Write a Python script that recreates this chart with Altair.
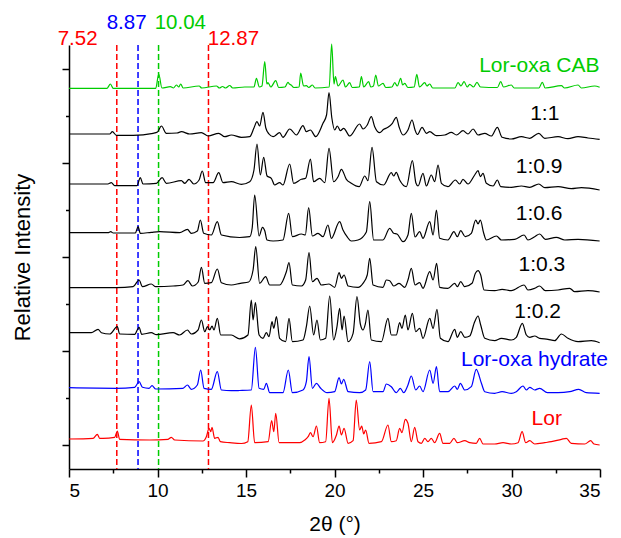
import altair as alt
import pandas as pd

FONT = "Liberation Sans"

# ---------------- data ----------------
series_names = ["Lor", "Lor-oxa hydrate", "1:0.2", "1:0.3", "1:0.6", "1:0.9", "1:1", "Lor-oxa CAB"]
series_colors = ["#FF0000", "#0000FF", "#000000", "#000000", "#000000", "#000000", "#000000", "#00CC00"]
series_offsets = [0, 51, 102, 153, 203, 255, 305, 356]

# (2theta, relative intensity above the trace's own baseline)
lor = [(5.0, 6), (6.36, 6.7), (6.6, 10.7), (6.73, 6.7), (6.92, 6.7), (7.58, 7.7), (7.73, 14), (7.86, 5.7),
       (9.56, 5), (10.6, 5.7), (10.78, 7.7), (10.97, 5), (12.57, 4), (12.76, 8.3), (12.91, 16.7), (13.01, 13.3),
       (13.08, 17.7), (13.23, 6.7), (13.42, 7.7), (13.55, 3.3), (14.08, 2.3), (14.74, 1.5), (15.1, 3.3),
       (15.3, 40), (15.49, 2.3), (16.25, 3.3), (16.45, 24.3), (16.57, 13.3), (16.68, 31.7), (16.87, 2.3),
       (18.03, 2.3), (18.32, 5), (18.51, 8.3), (18.64, 12.3), (18.79, 8.3), (18.98, 19), (19.16, 2.3),
       (19.5, 3.3), (19.69, 46.7), (19.88, 2.3), (20.11, 10), (20.26, 19), (20.39, 10), (20.54, 16.7),
       (20.77, 1.7), (21.05, 4.3), (21.23, 45), (21.42, 15), (21.54, 19), (21.65, 11), (21.76, 15),
       (21.95, 1.7), (22.65, 3.3), (23.02, 20), (23.21, 3.3), (23.49, 4.3), (23.68, 16.7), (23.81, 12.3),
       (24.0, 25.7), (24.15, 21.7), (24.34, 3.3), (24.53, 17.7), (24.72, 3.3), (24.91, 1.7), (25.1, 6.7),
       (25.28, 3.3), (25.47, 6.7), (25.66, 2.3), (25.94, 11.7), (26.13, 1.7), (26.51, 1.7), (26.75, 6.7),
       (26.94, 2.3), (27.36, 4.3), (27.64, 2.3), (28.01, 1.7), (28.2, 6.7), (28.39, 1), (29.05, 1),
       (29.52, 2.3), (29.99, 1), (30.37, 2.3), (30.6, 13.3), (30.8, 2.3), (31.03, 4.3), (31.31, 1),
       (31.88, 2.3), (32.25, 3.3), (32.82, 5.7), (33.1, 6.7), (33.38, 1.7), (34.14, 1), (34.47, 4.3),
       (34.66, 1), (34.98, 0)]

hydrate = [(5.0, 6.3), (7.68, 5.7), (8.71, 6.7), (8.96, 12.3), (9.15, 6.7), (9.52, 5.7), (9.69, 8.3), (9.9, 5),
           (11.44, 5.7), (11.69, 9), (11.91, 4.7), (12.25, 9), (12.44, 24), (12.63, 5.7), (13.04, 4.7),
           (13.38, 22.3), (13.61, 4), (14.17, 3.3), (14.64, 3.5), (15.3, 4), (15.53, 46.7), (15.74, 5.7),
           (16.0, 4.7), (16.15, 10.7), (16.34, 1.3), (17.09, 1.3), (17.39, 24), (17.62, 1.3), (18.22, 4),
           (18.41, 12.3), (18.56, 37.3), (18.75, 5.7), (18.98, 10.7), (19.22, 5.7), (19.58, 1.3), (20.01, 2.3),
           (20.26, 16.3), (20.39, 10), (20.52, 14.7), (20.77, 2.3), (21.42, 1.3), (21.76, 4), (21.99, 32.3),
           (22.18, 2.3), (22.74, 2.3), (22.93, 10), (23.21, 7.3), (23.49, 1.3), (23.72, 5.7), (23.91, 1.3),
           (24.15, 9), (24.34, 18), (24.59, 4), (24.81, 8), (25.0, 2.3), (25.38, 24), (25.57, 10.7),
           (25.76, 27.3), (25.94, 2.3), (26.41, 2.3), (26.79, 8), (26.94, 4.7), (27.11, 10.7), (27.36, 4),
           (27.73, 7.3), (28.01, 24.7), (28.3, 10.7), (28.49, 2.3), (29.05, 0.7), (29.47, 2.3), (29.99, 0.7),
           (30.27, 2.3), (30.65, 8), (30.84, 4), (31.03, 6.7), (31.31, 4), (31.59, 5.7), (32.03, 1.3),
           (32.63, 1.3), (33.29, 2.3), (33.8, 4.7), (34.23, 1.3), (34.98, 0.7)]

r_1_02 = [(5.0, 10.3), (6.26, 10.3), (6.64, 13.7), (6.83, 10.3), (7.3, 9), (7.73, 16.3), (7.86, 9), (8.71, 8.7),
          (8.96, 15.7), (9.11, 8.7), (9.65, 10.3), (9.94, 8.3), (10.88, 10.3), (11.25, 8), (11.69, 13),
          (11.91, 9), (12.29, 13), (12.48, 23), (12.67, 11.3), (12.82, 16.3), (12.95, 13), (13.08, 17),
          (13.19, 13), (13.38, 24.7), (13.57, 8), (14.17, 8), (14.64, 4.2), (15.11, 8), (15.3, 43), (15.4, 23),
          (15.53, 40.3), (15.74, 8), (15.96, 4.7), (16.15, 10.3), (16.3, 6.3), (16.47, 21.3), (16.57, 14.7),
          (16.72, 26.3), (16.9, 4.7), (17.24, 1.3), (17.43, 24.7), (17.62, 1.3), (18.22, 3), (18.41, 16.3),
          (18.6, 37), (18.82, 8), (19.01, 23), (19.2, 3), (19.5, 4.7), (19.73, 47), (19.95, 3), (20.14, 16.3),
          (20.29, 34.7), (20.43, 13), (20.54, 27), (20.77, 1.3), (21.05, 9.7), (21.27, 46.3), (21.46, 19),
          (21.61, 13), (21.74, 19), (21.89, 33), (22.08, 3), (22.65, 1.3), (23.02, 24.7), (23.21, 8),
          (23.49, 8), (23.68, 20.3), (23.81, 14.7), (24.0, 28), (24.15, 13), (24.4, 29.7), (24.59, 11.3),
          (24.81, 14.7), (25.0, 4.7), (25.38, 24.7), (25.57, 14.7), (25.79, 33.7), (25.98, 4.7), (26.41, 1.3),
          (26.79, 13.7), (26.94, 5.7), (27.13, 11.3), (27.36, 5.7), (27.64, 7), (27.92, 21.3), (28.11, 27),
          (28.26, 18), (28.49, 4.7), (29.05, 2.3), (29.43, 4.7), (29.99, 3), (30.27, 5.7), (30.61, 19.7),
          (30.84, 8), (31.03, 5.7), (31.31, 7), (31.59, 4.7), (32.06, 3.7), (32.44, 2.3), (32.82, 9),
          (33.19, 4.7), (33.76, 1.3), (34.51, 2.3), (34.98, 0.3)]

r_1_03 = [(5.0, 4.3), (7.68, 4.3), (8.62, 5.3), (8.96, 12), (9.15, 5.3), (9.65, 8), (9.9, 5.3), (10.88, 6),
          (11.44, 7), (11.72, 11.3), (11.97, 6), (12.3, 10), (12.48, 24.7), (12.67, 8.7), (13.04, 9.3),
          (13.38, 23), (13.61, 9.3), (14.17, 7), (14.68, 8.7), (15.15, 10), (15.4, 22), (15.55, 45.3),
          (15.77, 8.7), (16.11, 15.3), (16.34, 7), (16.9, 7), (17.28, 20.3), (17.43, 29.3), (17.62, 7),
          (18.13, 6), (18.37, 12), (18.56, 39.3), (18.75, 10.3), (19.01, 13.7), (19.26, 7), (19.69, 8),
          (20.01, 4.7), (20.26, 19.3), (20.39, 13.7), (20.54, 17), (20.77, 6), (21.33, 4.7), (21.61, 8.7),
          (21.85, 17), (21.99, 33.7), (22.18, 7), (22.74, 4.7), (22.93, 12), (23.12, 11.3), (23.34, 6),
          (23.65, 8.7), (23.97, 4.7), (24.15, 12), (24.34, 23.7), (24.55, 7), (24.81, 9.3), (25.0, 3.7),
          (25.38, 20.3), (25.57, 12), (25.77, 28.7), (25.94, 4.7), (26.41, 3.7), (26.79, 8.7), (26.94, 5.3),
          (27.13, 10.3), (27.36, 5.3), (27.77, 8.7), (27.96, 18.7), (28.11, 21.3), (28.26, 17), (28.45, 2),
          (29.05, 1.3), (29.47, 2.7), (29.99, 1.3), (30.71, 7), (30.93, 2), (31.31, 3.7), (31.59, 6),
          (31.91, 1.3), (32.63, 2), (33.29, 3.7), (33.57, 0.3), (34.32, 1.3), (34.98, 0)]

r_1_06 = [(5.0, 9.3), (7.2, 9.3), (7.36, 10.3), (7.5, 9), (8.75, 9), (8.9, 15.3), (9.03, 8.7), (9.65, 9.7),
          (10.13, 10.3), (11.25, 9.3), (11.69, 12.7), (11.91, 8.7), (12.25, 11), (12.42, 22), (12.61, 8.7),
          (13.04, 7), (13.38, 20.3), (13.61, 7), (14.64, 4.5), (15.21, 5.3), (15.35, 14), (15.49, 47),
          (15.74, 6), (15.93, 14.7), (16.06, 11.3), (16.19, 2), (16.53, 1), (17.09, 2), (17.41, 28.7),
          (17.62, 5.3), (18.13, 8), (18.35, 7), (18.54, 34.3), (18.75, 6), (19.07, 8.7), (19.35, 5.3),
          (19.63, 17), (19.82, 3.7), (20.29, 20.3), (20.48, 12), (20.71, 5.3), (20.95, 1), (21.33, 2),
          (21.8, 10), (21.99, 40.3), (22.21, 2), (22.74, 2), (23.12, 13.7), (23.34, 8.7), (23.53, 8),
          (23.87, 0.3), (24.15, 7), (24.34, 28.7), (24.55, 5), (24.81, 10.3), (25.0, 3.7), (25.38, 20.3),
          (25.57, 7), (25.76, 32), (25.94, 3.7), (26.41, 2), (26.75, 10.3), (26.94, 5.3), (27.13, 11.3),
          (27.39, 5.3), (27.73, 8.7), (27.98, 22), (28.11, 18), (28.24, 22), (28.43, 8.7), (28.58, 2),
          (29.15, 6), (29.43, 2), (30.18, 2.7), (30.71, 7), (30.93, 2), (31.31, 5.3), (31.59, 8),
          (31.91, 2.7), (32.53, 4.7), (33.01, 2), (33.76, 2.7), (34.98, 1)]

r_1_09 = [(5.0, 6), (7.2, 6), (7.39, 7.3), (7.58, 4.3), (8.84, 4.3), (9.03, 12.3), (9.18, 6), (9.94, 6.7),
          (10.26, 12.3), (10.5, 6.7), (11.35, 9.3), (11.54, 6.7), (11.78, 10.7), (12.05, 6), (12.35, 10),
          (12.53, 19), (12.72, 7.3), (13.14, 7.3), (13.46, 17.3), (13.7, 7.3), (14.17, 8.3), (14.74, 5.7),
          (15.21, 8.3), (15.45, 20), (15.62, 46), (15.81, 15), (16.0, 32.7), (16.19, 14), (16.43, 11.7),
          (16.62, 5), (16.9, 7.3), (17.09, 5), (17.47, 26), (17.69, 6.7), (18.13, 10.7), (18.37, 11.7),
          (18.64, 31), (18.82, 8.3), (19.16, 11.7), (19.45, 7.3), (19.69, 41.7), (19.95, 8.3), (20.2, 13.3),
          (20.39, 20.7), (20.67, 10.7), (20.95, 6.7), (21.39, 3.3), (21.71, 14), (21.89, 9.3), (22.12, 42.7),
          (22.37, 8.3), (22.78, 5), (23.21, 17.3), (23.34, 14), (23.49, 17.7), (23.68, 10), (24.06, 3.3),
          (24.4, 29.3), (24.6, 7), (24.72, 4), (25.0, 16.7), (25.19, 4), (25.47, 15), (25.66, 8.3),
          (25.85, 25), (26.04, 6.7), (26.41, 3.3), (26.83, 10), (27.07, 6), (27.26, 10.7), (27.54, 6),
          (27.92, 15), (28.11, 19.3), (28.24, 13.3), (28.39, 16.7), (28.58, 6.7), (28.96, 4), (29.2, 10),
          (29.39, 3.3), (29.99, 2.7), (30.56, 4), (31.03, 2.7), (31.54, 6), (31.88, 2.3), (32.63, 3.3),
          (33.38, 1.3), (33.95, 2.3), (34.98, 0)]

r_1_1 = [(5.0, 6), (7.3, 6), (7.45, 8.3), (7.68, 4.7), (8.62, 4.7), (9.75, 6.7), (10.0, 8), (10.22, 14),
         (10.5, 6.7), (11.1, 7), (11.35, 8.3), (11.82, 6), (12.48, 7.3), (12.86, 4), (13.46, 6.7), (13.8, 3.3),
         (14.17, 5), (14.74, 2.7), (15.21, 3.3), (15.45, 12), (15.62, 18.3), (15.77, 14), (15.96, 27.7),
         (16.12, 12), (16.3, 6), (16.53, 3.3), (16.9, 7.3), (17.09, 2.7), (17.47, 11), (17.85, 5),
         (18.22, 14.3), (18.41, 8.3), (18.64, 10), (18.94, 3.3), (19.35, 16.7), (19.55, 25), (19.69, 47.3),
         (19.85, 22), (20.01, 10), (20.16, 14), (20.33, 9.3), (20.52, 11.7), (20.86, 4), (21.42, 16),
         (21.61, 11), (21.85, 15), (22.08, 23.3), (22.27, 13.3), (22.55, 7.3), (22.78, 10.7), (23.02, 12.7),
         (23.27, 16.7), (23.49, 22.7), (23.65, 13), (23.87, 5), (24.15, 10), (24.38, 20), (24.55, 10),
         (24.68, 5.5), (24.95, 12.7), (25.19, 6.7), (25.38, 8.3), (25.76, 4.3), (26.23, 5), (26.6, 7.7),
         (26.89, 5), (27.26, 9.3), (27.54, 6), (27.83, 11), (28.11, 5), (28.49, 6.7), (28.86, 4),
         (29.2, 12.7), (29.47, 2.7), (29.99, 1), (30.56, 3.3), (31.03, 1.7), (31.54, 6.7), (31.88, 1.7),
         (32.63, 3.3), (33.19, 1.3), (33.76, 3.3), (34.32, 2), (34.98, 0.7)]

cab = [(5.0, 0.7), (7.15, 0.7), (7.34, 5), (7.5, 0.7), (9.9, 0.7), (10.07, 15), (10.25, 1), (10.73, 2.3),
       (10.9, 1), (11.07, 4), (11.2, 2), (11.31, 5), (11.45, 1), (12.35, 3), (12.5, 1), (13.33, 3), (13.5, 1),
       (13.67, 2.5), (13.85, 1), (14.08, 3.5), (14.25, 1), (14.93, 2), (15.45, 2), (15.59, 10.7), (15.75, 2),
       (15.9, 3), (16.06, 27.3), (16.18, 5), (16.24, 6.3), (16.4, 2), (16.68, 8.3), (16.85, 1.5), (17.2, 2),
       (17.37, 6.7), (17.45, 5), (17.55, 4), (17.7, 1.5), (18.0, 2), (18.09, 16), (18.25, 3), (18.41, 3.3),
       (18.55, 1.5), (18.75, 4), (18.9, 1), (19.7, 2), (19.84, 45), (19.97, 5), (20.05, 12.3), (20.2, 3),
       (20.48, 9), (20.62, 2), (20.86, 6.3), (21.0, 1.5), (21.4, 2), (21.52, 12.3), (21.65, 2), (21.93, 7.3),
       (22.05, 2), (22.2, 3), (22.33, 14), (22.48, 3), (22.74, 5.7), (22.9, 1.5), (23.25, 2), (23.4, 6.3),
       (23.55, 3), (23.74, 10.7), (23.85, 4), (23.97, 5.7), (24.15, 1.5), (24.5, 2), (24.65, 14.7),
       (24.8, 2), (25.1, 6.3), (25.22, 3), (25.38, 5), (25.55, 1), (26.8, 1), (26.98, 6.3), (27.15, 3),
       (27.32, 7.3), (27.5, 2), (27.64, 4.7), (27.85, 2), (28.05, 6.7), (28.25, 2), (29.2, 1.5), (29.39, 7.3),
       (29.55, 2), (29.99, 4), (30.15, 1), (31.55, 1), (31.74, 6.7), (31.9, 1), (32.82, 3.3), (33.0, 1),
       (33.76, 4), (33.95, 1), (34.7, 3), (34.98, 1.7)]

series_points = [lor, hydrate, r_1_02, r_1_03, r_1_06, r_1_09, r_1_1, cab]

# series name labels (centre 2theta, height on the same intensity scale)
label_x = [31.99, 31.30, 31.48, 31.72, 31.56, 31.56, 31.88, 31.57]
label_y = [20, 79, 126.7, 174.3, 225, 272.3, 325, 372.7]

# dashed reference lines
ref_pos = [7.70, 8.90, 10.06, 12.88]
ref_text = ["7.52", "8.87", "10.04", "12.87"]
ref_colors = ["#FF0000", "#0000FF", "#00CC00", "#FF0000"]
ref_text_x = [4.36, 7.13, 9.84, 12.84]
ref_text_y = [400, 416, 416, 400]

x_ticks = [5, 7.5, 10, 12.5, 15, 17.5, 20, 22.5, 25, 27.5, 30, 32.5, 35]
y_ticks = [0, 47, 94, 141, 188, 235, 282, 329, 376]

# ---------------- tables ----------------
rows = []
for name, off, pts in zip(series_names, series_offsets, series_points):
    for i, (xv, iv) in enumerate(pts):
        rows.append({"series": name, "i": i, "x": xv, "y": off + iv})
df = pd.DataFrame(rows)

lab_df = pd.DataFrame({"series": series_names, "x": label_x, "y": label_y})
ref_df = pd.DataFrame({"x": ref_pos, "c": ref_colors})
ref_lab_df = pd.DataFrame({"x": ref_text_x, "y": ref_text_y, "t": ref_text, "c": ref_colors})

xscale = alt.Scale(domain=[5, 35], nice=False, zero=False)
yscale = alt.Scale(domain=[-24, 400], nice=False, zero=False)
cscale = alt.Scale(domain=series_names, range=series_colors)

x_axis = alt.Axis(
    values=x_ticks,
    labelExpr="datum.value % 5 === 0 ? datum.label : ''",
    tickSize={"condition": {"test": "datum.value % 5 === 0", "value": 8}, "value": 4},
    title="2θ (°)",
    grid=False,
    domainColor="black", domainWidth=1.5,
    tickColor="black", tickWidth=1.5,
    labelFont=FONT, labelFontSize=19, labelColor="black", labelPadding=4,
    titleFont=FONT, titleFontSize=21, titleColor="black", titleFontWeight="normal", titlePadding=13,
)
y_axis = alt.Axis(
    values=y_ticks,
    labels=False,
    tickSize={"condition": {"test": "datum.value % 94 === 0", "value": 7}, "value": 3.5},
    title="Relative Intensity",
    grid=False,
    domainColor="black", domainWidth=1.5,
    tickColor="black", tickWidth=1.5,
    titleFont=FONT, titleFontSize=22, titleColor="black", titleFontWeight="normal", titlePadding=27,
)

lines = alt.Chart(df).mark_line(strokeWidth=1.2, clip=False, interpolate="monotone").encode(
    x=alt.X("x:Q", scale=xscale, axis=x_axis),
    y=alt.Y("y:Q", scale=yscale, axis=y_axis),
    color=alt.Color("series:N", scale=cscale, legend=None),
    detail="series:N",
    order="i:Q",
)

rules = alt.Chart(ref_df).mark_rule(strokeDash=[6, 3], strokeWidth=1.5).encode(
    x=alt.X("x:Q", scale=xscale),
    color=alt.Color("c:N", scale=None),
)

labels = alt.Chart(lab_df).mark_text(align="center", baseline="alphabetic", font=FONT, fontSize=21).encode(
    x=alt.X("x:Q", scale=xscale),
    y=alt.Y("y:Q", scale=yscale),
    text="series:N",
    color=alt.Color("series:N", scale=cscale, legend=None),
)

ref_labels = alt.Chart(ref_lab_df).mark_text(align="left", baseline="alphabetic", font=FONT, fontSize=20.5).encode(
    x=alt.X("x:Q", scale=xscale),
    y=alt.Y("y:Q", scale=yscale),
    text="t:N",
    color=alt.Color("c:N", scale=None),
)

chart = alt.layer(rules, lines, labels, ref_labels).resolve_scale(color="independent").properties(
    width=531,
    height=424,
    autosize=alt.AutoSizeParams(type="none"),
    padding={"left": 69, "top": 45, "right": 21, "bottom": 69},
    background="white",
).configure_view(stroke=None)

chart.save("out.html", embed_options={"renderer": "svg", "actions": False})
